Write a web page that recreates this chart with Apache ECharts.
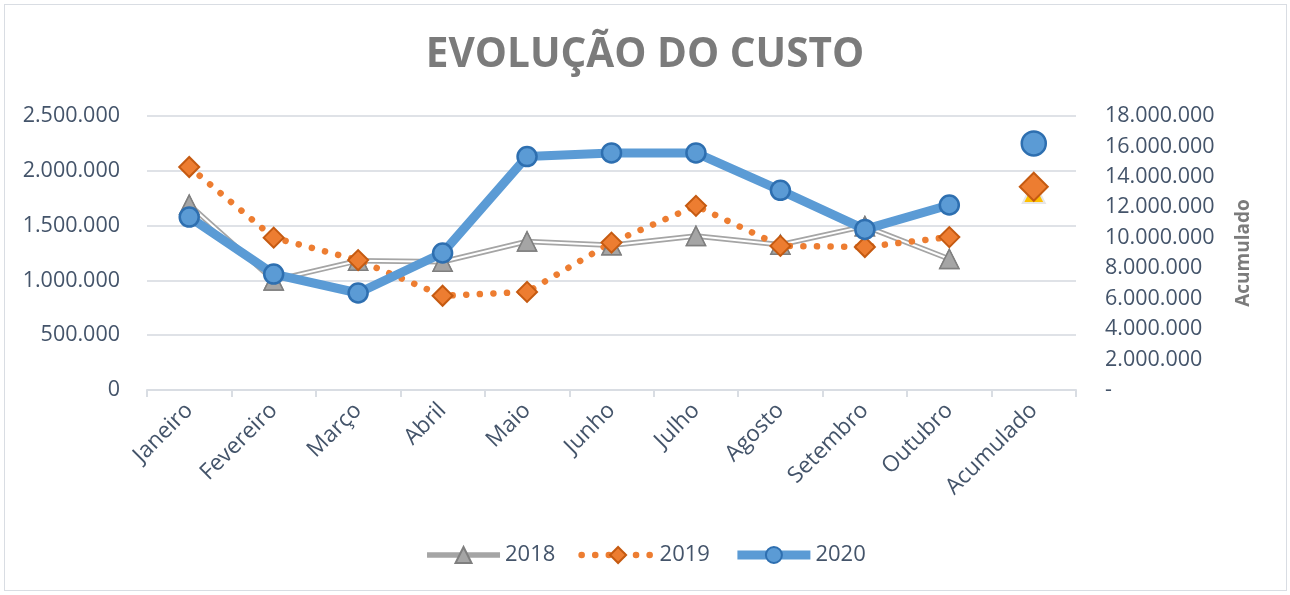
<!DOCTYPE html>
<html>
<head>
<meta charset="utf-8">
<script src="https://cdn.jsdelivr.net/npm/echarts@6/dist/echarts.min.js"></script>
<style>
  html, body { margin: 0; padding: 0; background: #fff; }
  #draw { width: 1290px; height: 595px; }
  #moldura { position: absolute; left: 4px; top: 4px; width: 1283px; height: 587px; border: 1px solid #d9dde3; box-sizing: border-box; pointer-events: none; }
</style>
</head>
<body>
<div id="draw"></div>
<div id="moldura"></div>
<script>
// dados
var meses = ['Janeiro', 'Fevereiro', 'Março', 'Abril', 'Maio', 'Junho', 'Julho', 'Agosto', 'Setembro', 'Outubro', 'Acumulado'];
var custo2018 = [1690000, 1000000, 1180000, 1170000, 1355000, 1320000, 1405000, 1325000, 1495000, 1195000];
var custo2019 = [2035000, 1390000, 1185000, 860000, 895000, 1345000, 1680000, 1315000, 1305000, 1395000];
var custo2020 = [1578000, 1058000, 885000, 1250000, 2130000, 2163000, 2163000, 1822000, 1465000, 1688000];
var acumulado2018 = 13000000;
var acumulado2019 = 13350000;
var acumulado2020 = 16200000;

var fonte = 'Open Sans';
var corTexto = '#44546a';

var fmt = function(v) {
	return String(v).replace(/\B(?=(\d{3})+(?!\d))/g, '.');
};

// so o ultimo ponto (Acumulado) tem valor
var soAcumulado = function(v) {
	return meses.map(function(m, i) {
		return i === meses.length - 1 ? v : '-';
	});
};

var myChart = echarts.init(document.getElementById('draw'));

var option = {
	backgroundColor: '#fff',
	animation: false,
	title: {
		text: 'EVOLUÇÃO DO CUSTO',
		left: 'center',
		top: 30,
		textStyle: {
			fontFamily: fonte,
			fontWeight: 'bold',
			fontSize: 40.5,
			color: '#7b7b7b'
		}
	},
	legend: {
		bottom: 24,
		left: 'center',
		itemWidth: 73,
		itemHeight: 20,
		itemGap: 23,
		data: ['2018', '2019', '2020'],
		lineStyle: { width: 'inherit' },
		textStyle: {
			fontFamily: fonte,
			fontSize: 22,
			color: corTexto
		}
	},
	grid: {
		left: 147,
		right: 214,
		top: 116,
		bottom: 205
	},
	xAxis: {
		type: 'category',
		data: meses,
		boundaryGap: true,
		axisLine: { lineStyle: { color: '#d9dde3', width: 2 } },
		axisTick: { show: true, length: 7, lineStyle: { color: '#d9dde3', width: 2 } },
		axisLabel: {
			rotate: 45,
			margin: 17,
			interval: 0,
			fontFamily: fonte,
			fontSize: 22.5,
			color: corTexto
		}
	},
	yAxis: [{
		type: 'value',
		min: 0,
		max: 2500000,
		interval: 500000,
		axisLine: { show: false },
		axisTick: { show: false },
		splitLine: { lineStyle: { color: '#dfe2e7', width: 2 } },
		axisLabel: {
			margin: 27,
			fontFamily: fonte,
			fontSize: 21.5,
			color: corTexto,
			formatter: fmt
		}
	}, {
		type: 'value',
		min: 0,
		max: 18000000,
		interval: 2000000,
		name: 'Acumulado',
		nameLocation: 'middle',
		nameRotate: 90,
		nameGap: 158,
		nameTextStyle: {
			fontFamily: fonte,
			fontWeight: 'bold',
			fontSize: 19,
			color: '#7b7b7b'
		},
		axisLine: { show: false },
		axisTick: { show: false },
		splitLine: { show: false },
		axisLabel: {
			margin: 29,
			fontFamily: fonte,
			fontSize: 21.5,
			color: corTexto,
			formatter: function(v) {
				return v === 0 ? '-' : fmt(v);
			}
		}
	}],
	series: [{
		// linha dupla: traco cinza grosso...
		name: '2018',
		type: 'line',
		data: custo2018,
		symbol: 'triangle',
		symbolSize: 19,
		lineStyle: { color: '#a5a5a5', width: 5.5 },
		itemStyle: { color: '#a5a5a5', borderColor: '#7f7f7f', borderWidth: 1.5 }
	}, {
		// ...com miolo branco por cima
		name: '2018 miolo',
		type: 'line',
		data: custo2018,
		symbol: 'none',
		silent: true,
		lineStyle: { color: '#ffffff', width: 2 }
	}, {
		name: '2018 marcas',
		type: 'line',
		data: custo2018,
		symbol: 'triangle',
		symbolSize: 19,
		silent: true,
		lineStyle: { width: 0, opacity: 0 },
		itemStyle: { color: '#a5a5a5', borderColor: '#7f7f7f', borderWidth: 1.5 }
	}, {
		name: '2019',
		type: 'line',
		data: custo2019,
		symbol: 'diamond',
		symbolSize: 20,
		lineStyle: { color: '#ed7d31', width: 6.5, type: [0.1, 13.5], cap: 'round' },
		itemStyle: { color: '#ed7d31', borderColor: '#c55a11', borderWidth: 2 }
	}, {
		name: '2020',
		type: 'line',
		data: custo2020,
		symbol: 'circle',
		symbolSize: 19,
		lineStyle: { color: '#5b9bd5', width: 9 },
		itemStyle: { color: '#5b9bd5', borderColor: '#2e6fb0', borderWidth: 2.5 }
	}, {
		name: 'Acumulado 2018',
		type: 'line',
		yAxisIndex: 1,
		data: soAcumulado(acumulado2018),
		symbol: 'triangle',
		symbolSize: 22,
		lineStyle: { width: 0 },
		itemStyle: { color: '#ffc000', borderColor: '#e7e6e6', borderWidth: 2 }
	}, {
		name: 'Acumulado 2019',
		type: 'line',
		yAxisIndex: 1,
		data: soAcumulado(acumulado2019),
		symbol: 'diamond',
		symbolSize: 28,
		lineStyle: { width: 0 },
		itemStyle: { color: '#ed7d31', borderColor: '#c55a11', borderWidth: 2 }
	}, {
		name: 'Acumulado 2020',
		type: 'line',
		yAxisIndex: 1,
		data: soAcumulado(acumulado2020),
		symbol: 'circle',
		symbolSize: 24,
		lineStyle: { width: 0 },
		itemStyle: { color: '#5b9bd5', borderColor: '#2e6fb0', borderWidth: 2.5 }
	}]
};

myChart.setOption(option);
</script>
</body>
</html>
